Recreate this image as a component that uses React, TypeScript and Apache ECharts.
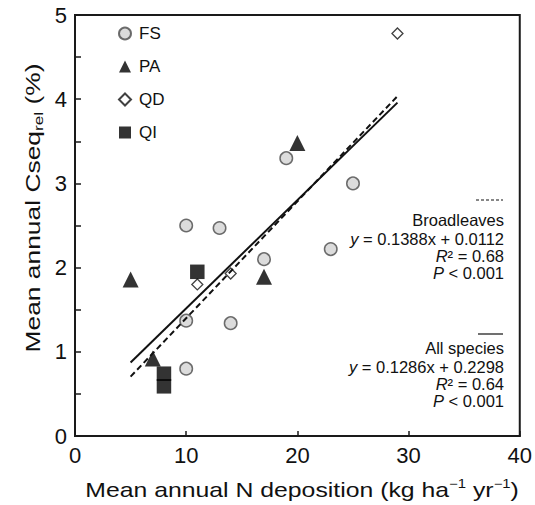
import React, { useEffect, useRef } from "react";
import * as echarts from "echarts";

// ---- data ----
const fsX = [10, 10, 10, 13, 14, 17, 19, 23, 25];
const fsY = [2.5, 1.37, 0.8, 2.47, 1.34, 2.1, 3.3, 2.22, 3.0];
const paX = [5, 7, 17, 20];
const paY = [1.86, 0.92, 1.89, 3.48];
const qdX = [11, 14, 29];
const qdY = [1.8, 1.93, 4.78];
const qiX = [11, 8, 8];
const qiY = [1.95, 0.74, 0.59];

// regression fits (from the annotations)
const allSlope = 0.1286;
const allIntercept = 0.2298;
const broadSlope = 0.1388;
const broadIntercept = 0.0112;
const fitRange = [5, 29];

const xTicks = [0, 10, 20, 30, 40];
const yTicks = [0, 1, 2, 3, 4, 5];

const FONT = "Liberation Sans, Arial, Helvetica, sans-serif";

const pairs = (xs: number[], ys: number[]) => xs.map((x, i) => [x, ys[i]]);
const fitLine = (m: number, b: number) => fitRange.map((x) => [x, m * x + b]);

export default function App() {
  const ref = useRef<HTMLDivElement>(null);
  useEffect(() => {
    if (!ref.current) return;
    const chart = echarts.init(ref.current, null, { renderer: "svg" });
    const annoRight = 504;
    const annoStyle = (text: string, y: number) => ({
      type: "text",
      x: annoRight,
      y,
      style: {
        text,
        align: "right",
        verticalAlign: "middle",
        fill: "#111",
        font: `16.5px ${FONT}`,
        rich: {
          i: { fontStyle: "italic", fontSize: 16.5, fontFamily: FONT, fill: "#111" },
          n: { fontSize: 16.5, fontFamily: FONT, fill: "#111" },
        },
      },
      z: 100,
    });
    chart.setOption({
      animation: false,
      backgroundColor: "#fff",
      textStyle: { fontFamily: FONT },
      grid: {
        left: 75,
        right: 14,
        top: 15,
        bottom: 69,
        show: true,
        borderColor: "#1a1a1a",
        borderWidth: 2,
        backgroundColor: "transparent",
      },
      legend: {
        data: ["FS", "PA", "QD", "QI"],
        orient: "vertical",
        left: 118,
        top: 25,
        padding: 0,
        itemWidth: 12,
        itemHeight: 12,
        itemGap: 16,
        textStyle: {
          fontSize: 17,
          fontFamily: FONT,
          color: "#111",
          lineHeight: 16,
          padding: [0, 0, 0, 3],
        },
      },
      xAxis: {
        type: "value",
        min: xTicks[0],
        max: xTicks[xTicks.length - 1],
        interval: 10,
        axisLine: { show: true, lineStyle: { color: "#1a1a1a", width: 2 } },
        axisTick: { show: true, inside: true, length: 5, lineStyle: { color: "#1a1a1a", width: 1.5 } },
        axisLabel: { fontSize: 22, color: "#111", margin: 8, fontFamily: FONT },
        splitLine: { show: false },
      },
      yAxis: {
        type: "value",
        min: yTicks[0],
        max: yTicks[yTicks.length - 1],
        interval: 0.5,
        axisLine: { show: true, lineStyle: { color: "#1a1a1a", width: 2 } },
        axisTick: { show: true, inside: true, length: 6, lineStyle: { color: "#1a1a1a", width: 1.5 } },
        axisLabel: {
          fontSize: 22,
          color: "#111",
          margin: 8,
          fontFamily: FONT,
          formatter: (v: number) => (yTicks.includes(v) ? String(v) : ""),
        },
        splitLine: { show: false },
      },
      series: [
        {
          name: "FS",
          type: "scatter",
          symbol: "circle",
          symbolSize: 12.5,
          data: pairs(fsX, fsY),
          itemStyle: { color: "#d3d3d3", borderColor: "#4a4a4a", borderWidth: 1.5 },
          z: 2,
        },
        {
          name: "PA",
          type: "scatter",
          symbol: "triangle",
          symbolSize: 16,
          data: pairs(paX, paY),
          itemStyle: { color: "#000" },
          z: 2,
        },
        {
          name: "QI",
          type: "scatter",
          symbol: "rect",
          symbolSize: 14.5,
          data: pairs(qiX, qiY),
          itemStyle: { color: "#000" },
          z: 2,
        },
        {
          name: "QD",
          type: "scatter",
          symbol: "diamond",
          symbolSize: 11,
          data: pairs(qdX, qdY),
          itemStyle: { color: "#fff", borderColor: "#111", borderWidth: 1.3 },
          z: 3,
        },
        {
          name: "All species",
          type: "line",
          data: fitLine(allSlope, allIntercept),
          showSymbol: false,
          symbol: "none",
          lineStyle: { color: "#111", width: 2 },
          z: 5,
        },
        {
          name: "Broadleaves",
          type: "line",
          data: fitLine(broadSlope, broadIntercept),
          showSymbol: false,
          symbol: "none",
          lineStyle: { color: "#111", width: 2, type: [6, 3.5] },
          z: 5,
        },
      ],
      graphic: [
        {
          type: "text",
          x: 302,
          y: 490,
          scaleX: 1.24,
          style: {
            text: "{a|Mean annual N deposition (kg ha}{p|−1}{a| yr}{p|−1}{a|)}",
            align: "center",
            verticalAlign: "middle",
            rich: {
              a: { fontSize: 20, fontFamily: FONT, fill: "#111", lineHeight: 24 },
              p: { fontSize: 12, fontFamily: FONT, fill: "#111", lineHeight: 12, verticalAlign: "top" },
            },
          },
        },
        {
          type: "text",
          x: 33,
          y: 208,
          rotation: Math.PI / 2,
          scaleX: 1.32,
          style: {
            text: "{a|Mean annual Cseq}{s|rel}{a| (%)}",
            align: "center",
            verticalAlign: "middle",
            rich: {
              a: { fontSize: 20, fontFamily: FONT, fill: "#111", lineHeight: 24 },
              s: { fontSize: 13, fontFamily: FONT, fill: "#111", lineHeight: 10, verticalAlign: "bottom" },
            },
          },
        },
        {
          type: "line",
          shape: { x1: 476, y1: 200, x2: 503, y2: 200 },
          style: { stroke: "#111", lineWidth: 1.2, lineDash: [3, 2] },
        },
        annoStyle("Broadleaves", 220),
        annoStyle("{i|y}{n| = 0.1388x + 0.0112}", 239),
        annoStyle("{i|R}{n|² = 0.68}", 256),
        annoStyle("{i|P}{n| < 0.001}", 273),
        {
          type: "line",
          shape: { x1: 478, y1: 334, x2: 503, y2: 334 },
          style: { stroke: "#111", lineWidth: 1.2 },
        },
        annoStyle("All species", 348),
        annoStyle("{i|y}{n| = 0.1286x + 0.2298}", 367),
        annoStyle("{i|R}{n|² = 0.64}", 384),
        annoStyle("{i|P}{n| < 0.001}", 401),
      ],
    });
    return () => chart.dispose();
  }, []);
  return (
    <div
      ref={ref}
      style={{ position: "fixed", left: 0, top: 0, width: 535, height: 505 }}
    />
  );
}
